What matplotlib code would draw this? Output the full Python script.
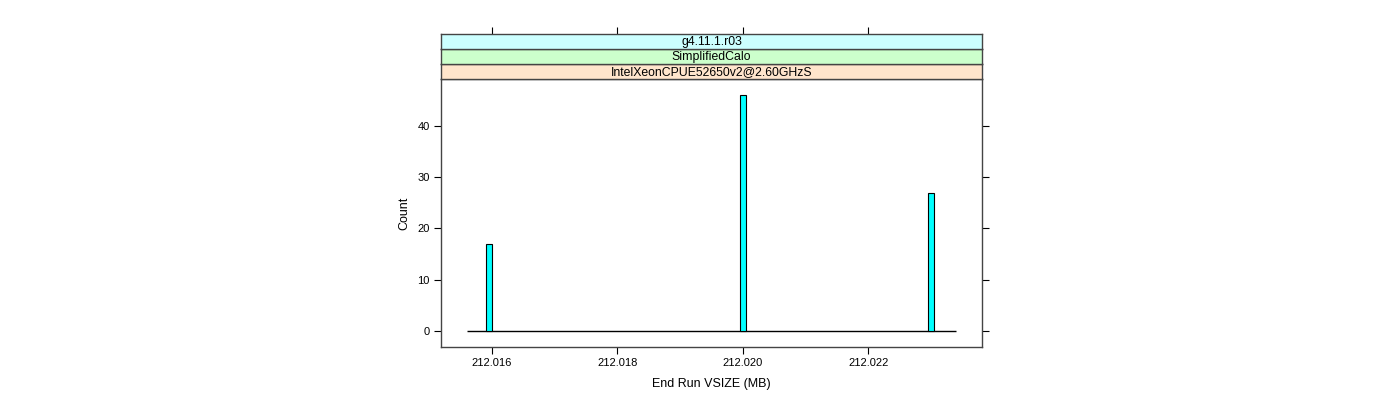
import numpy as np
import matplotlib
import matplotlib.pyplot as plt

matplotlib.use("Agg")
plt.rcParams['font.family'] = ['Liberation Sans', 'DejaVu Sans']

# histogram data
bar_centers = [212.01595, 212.0200, 212.0230]
bar_counts = [17, 46, 27]
bar_width = 0.0001
hist_range = [212.01561, 212.02339]
x_limits = [212.01519, 212.02381]

x_ticks = [212.016, 212.018, 212.020, 212.022]
x_tick_labels = ["212.016", "212.018", "212.020", "212.022"]
y_ticks = [0, 10, 20, 30, 40]

strip_labels = ["IntelXeonCPUE52650v2@2.60GHzS", "SimplifiedCalo", "g4.11.1.r03"]
strip_colors = ["#ffe5cc", "#ccffcc", "#ccffff"]

W, H = 1400, 400
fig = plt.figure(figsize=(14, 4), dpi=100)

left, right = 441 / W, 982 / W
bottom, top = 1 - 347.3 / H, 1 - 79 / H
ax = fig.add_axes([left, bottom, right - left, top - bottom])

ax.bar(bar_centers, bar_counts, width=bar_width, color="#00ffff",
       edgecolor="black", linewidth=0.8, zorder=3)
ax.hlines(0, hist_range[0], hist_range[1], color="black", linewidth=1, zorder=2)

ax.set_xlim(x_limits)
ax.set_ylim(-0.07 * max(bar_counts), 1.07 * max(bar_counts))
ax.set_xticks(x_ticks)
ax.set_xticklabels(x_tick_labels)
ax.set_yticks(y_ticks)
ax.tick_params(axis="both", direction="out", length=5, width=0.8,
               labelsize=8, pad=3, colors="black")
ax.tick_params(axis="y", right=True, labelright=False)
for s in ax.spines.values():
    s.set_color("#444444")
    s.set_linewidth(1)
ax.set_xlabel("End Run VSIZE (MB)", fontsize=9, labelpad=7)
ax.set_ylabel("Count", fontsize=9, labelpad=5)

# strips above the panel
strip_h = 15 / H
for i, (lab, col) in enumerate(zip(strip_labels, strip_colors)):
    sax = fig.add_axes([left, top + i * strip_h, right - left, strip_h])
    sax.set_facecolor(col)
    sax.set_xlim(x_limits)
    sax.set_ylim(0, 1)
    sax.set_yticks([])
    if i == len(strip_labels) - 1:
        sax.set_xticks(x_ticks)
        sax.tick_params(axis="x", bottom=False, labelbottom=False, top=True,
                        labeltop=False, direction="out", length=5, width=0.8)
    else:
        sax.set_xticks([])
    for s in sax.spines.values():
        s.set_color("#444444")
        s.set_linewidth(1)
    sax.text(0.5, 0.45, lab, transform=sax.transAxes, ha="center", va="center",
             fontsize=8.8)

fig.savefig("out.png", dpi=100)
